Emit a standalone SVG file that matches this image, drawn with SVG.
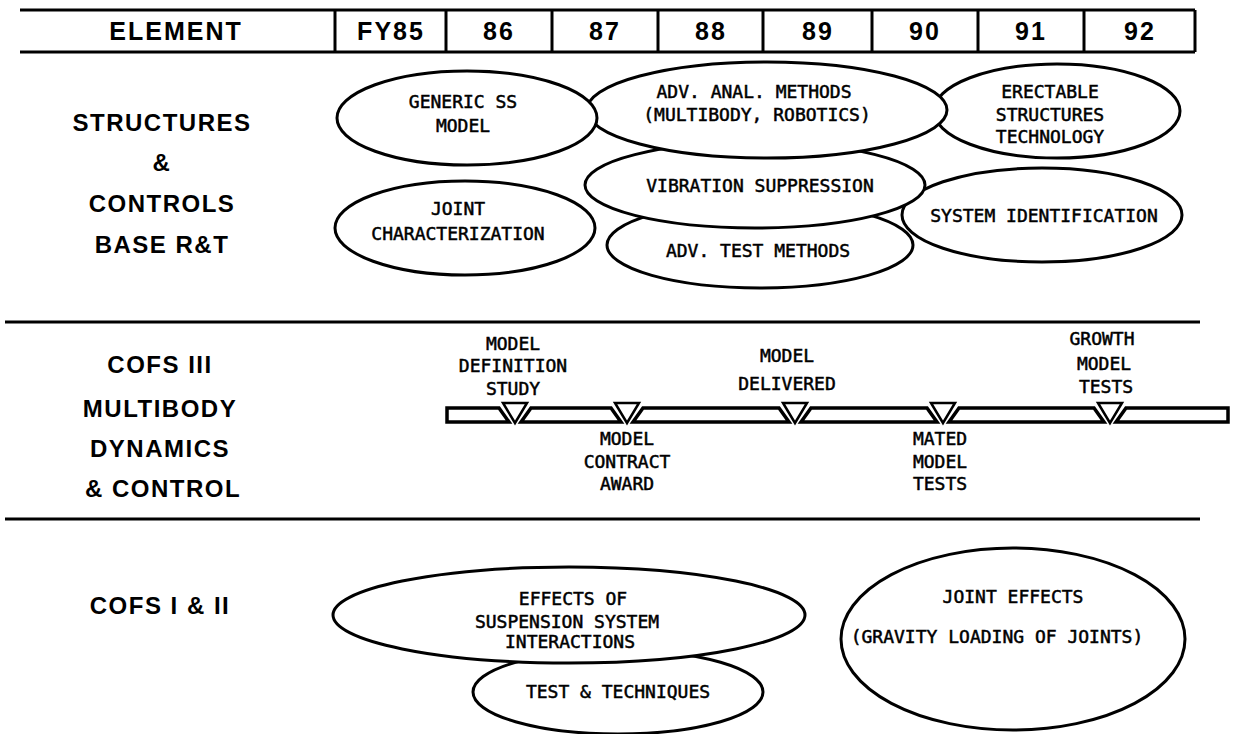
<svg xmlns="http://www.w3.org/2000/svg" width="1234" height="734" viewBox="0 0 1234 734">
<style>
.hd{font-family:"Liberation Sans",Arial,sans-serif;font-weight:bold;font-size:25px;letter-spacing:2px;text-anchor:middle;fill:#000}
.lb{font-family:"Liberation Sans",Arial,sans-serif;font-weight:bold;font-size:24px;letter-spacing:1.5px;text-anchor:middle;fill:#000}
.tx{font-family:"DejaVu Sans Mono","Liberation Mono",monospace;font-size:18px;text-anchor:middle;fill:#000;stroke:#000;stroke-width:0.5}
.ln{stroke:#000;stroke-width:3;fill:none}
.el{stroke:#000;stroke-width:3;fill:#fff}
.bar{stroke:#000;stroke-width:3.5;fill:#fff;stroke-linejoin:miter}
.tri{stroke:#000;stroke-width:2.5;fill:#fff}
</style>
<rect width="1234" height="734" fill="#fff"/>
<g id="header">
<line class="ln" x1="20" y1="10" x2="1195" y2="10"/>
<line class="ln" x1="20" y1="52" x2="1195" y2="52"/>
<line class="ln" x1="1195" y1="10" x2="1195" y2="52"/>
<line class="ln" x1="335" y1="10" x2="335" y2="52"/>
<line class="ln" x1="446" y1="10" x2="446" y2="52"/>
<line class="ln" x1="552" y1="10" x2="552" y2="52"/>
<line class="ln" x1="658" y1="10" x2="658" y2="52"/>
<line class="ln" x1="763" y1="10" x2="763" y2="52"/>
<line class="ln" x1="872" y1="10" x2="872" y2="52"/>
<line class="ln" x1="978" y1="10" x2="978" y2="52"/>
<line class="ln" x1="1084" y1="10" x2="1084" y2="52"/>
<text class="hd" x="176" y="40">ELEMENT</text>
<text class="hd" x="391" y="40">FY85</text>
<text class="hd" x="499" y="40">86</text>
<text class="hd" x="605" y="40">87</text>
<text class="hd" x="711" y="40">88</text>
<text class="hd" x="818" y="40">89</text>
<text class="hd" x="925" y="40">90</text>
<text class="hd" x="1031" y="40">91</text>
<text class="hd" x="1140" y="40">92</text>
</g>
<g id="section-lines">
<line class="ln" x1="5" y1="322" x2="1200" y2="322"/>
<line class="ln" x1="5" y1="519" x2="1200" y2="519"/>
</g>
<g id="label-structures">
<text class="lb" x="162" y="131">STRUCTURES</text>
<text class="lb" x="162" y="171">&amp;</text>
<text class="lb" x="162" y="212">CONTROLS</text>
<text class="lb" x="162" y="253">BASE R&amp;T</text>
</g>
<g id="label-cofs3">
<text class="lb" x="160" y="373">COFS III</text>
<text class="lb" x="160" y="417">MULTIBODY</text>
<text class="lb" x="160" y="457">DYNAMICS</text>
<text class="lb" x="163" y="497">&amp; CONTROL</text>
</g>
<g id="label-cofs12">
<text class="lb" x="160" y="614">COFS I &amp; II</text>
</g>
<g id="erectable">
<ellipse class="el" cx="1057" cy="111" rx="123" ry="47"/>
<text class="tx" x="1050" y="98">ERECTABLE</text>
<text class="tx" x="1050" y="121">STRUCTURES</text>
<text class="tx" x="1050" y="143">TECHNOLOGY</text>
</g>
<g id="system-id">
<ellipse class="el" cx="1042" cy="215" rx="140" ry="47"/>
<text class="tx" x="1044" y="222">SYSTEM IDENTIFICATION</text>
</g>
<g id="adv-test">
<ellipse class="el" cx="760" cy="245" rx="153" ry="43"/>
<text class="tx" x="758" y="257">ADV. TEST METHODS</text>
</g>
<g id="vibration">
<ellipse class="el" cx="755" cy="185" rx="170" ry="43"/>
<text class="tx" x="760" y="192">VIBRATION SUPPRESSION</text>
</g>
<g id="adv-anal">
<ellipse class="el" cx="767" cy="110" rx="180" ry="48"/>
<text class="tx" x="754" y="98">ADV. ANAL. METHODS</text>
<text class="tx" x="757" y="121">(MULTIBODY, ROBOTICS)</text>
</g>
<g id="generic-ss">
<ellipse class="el" cx="467" cy="118" rx="130" ry="47"/>
<text class="tx" x="463" y="108">GENERIC SS</text>
<text class="tx" x="463" y="132">MODEL</text>
</g>
<g id="joint-char">
<ellipse class="el" cx="465" cy="228" rx="130" ry="47"/>
<text class="tx" x="458" y="215">JOINT</text>
<text class="tx" x="458" y="240">CHARACTERIZATION</text>
</g>
<g id="timeline">
<polygon class="bar" points="447,408 499,408 509,422 447,422"/>
<polygon class="bar" points="531,408 611,408 621,422 521,422"/>
<polygon class="bar" points="643,408 779,408 789,422 633,422"/>
<polygon class="bar" points="811,408 927,408 937,422 801,422"/>
<polygon class="bar" points="959,408 1094,408 1104,422 949,422"/>
<polygon class="bar" points="1126,408 1228,408 1228,422 1116,422"/>
<polygon class="tri" points="503,403 527,403 515,423"/>
<polygon class="tri" points="615,403 639,403 627,423"/>
<polygon class="tri" points="783,403 807,403 795,423"/>
<polygon class="tri" points="931,403 955,403 943,423"/>
<polygon class="tri" points="1098,403 1122,403 1110,423"/>
</g>
<g id="ms-definition">
<text class="tx" x="513" y="350">MODEL</text>
<text class="tx" x="513" y="372">DEFINITION</text>
<text class="tx" x="513" y="395">STUDY</text>
</g>
<g id="ms-contract">
<text class="tx" x="627" y="445">MODEL</text>
<text class="tx" x="627" y="468">CONTRACT</text>
<text class="tx" x="627" y="490">AWARD</text>
</g>
<g id="ms-delivered">
<text class="tx" x="787" y="362">MODEL</text>
<text class="tx" x="787" y="390">DELIVERED</text>
</g>
<g id="ms-mated">
<text class="tx" x="940" y="445">MATED</text>
<text class="tx" x="940" y="468">MODEL</text>
<text class="tx" x="940" y="490">TESTS</text>
</g>
<g id="ms-growth">
<text class="tx" x="1102" y="345">GROWTH</text>
<text class="tx" x="1104" y="370">MODEL</text>
<text class="tx" x="1106" y="393">TESTS</text>
</g>
<g id="test-tech">
<ellipse class="el" cx="618" cy="692" rx="145" ry="42"/>
<text class="tx" x="618" y="698">TEST &amp; TECHNIQUES</text>
</g>
<g id="effects">
<ellipse class="el" cx="569" cy="615" rx="236" ry="48"/>
<text class="tx" x="573" y="605">EFFECTS OF</text>
<text class="tx" x="567" y="628">SUSPENSION SYSTEM</text>
<text class="tx" x="570" y="648">INTERACTIONS</text>
</g>
<g id="joint-effects">
<ellipse class="el" cx="1013" cy="639" rx="172" ry="91"/>
<text class="tx" x="1013" y="603">JOINT EFFECTS</text>
<text class="tx" x="997" y="643">(GRAVITY LOADING OF JOINTS)</text>
</g>
</svg>
